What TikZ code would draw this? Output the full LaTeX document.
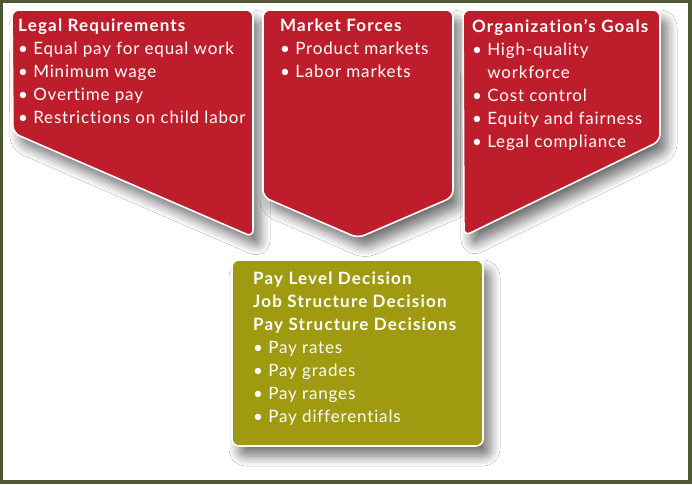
\documentclass[tikz,border=0pt]{standalone}
\usepackage{fontspec}
\setmainfont{Lato}[LetterSpace=5, Ligatures={NoCommon, NoRare}, BoldFeatures={LetterSpace=7}]
\usetikzlibrary{shadows.blur}
\definecolor{framegreen}{RGB}{78,88,52}
\definecolor{boxred}{RGB}{190,30,44}
\definecolor{boxolive}{RGB}{160,154,16}

\begin{document}
\begin{tikzpicture}[x=1pt, y=-1pt,
        factor/.style={draw=white, line width=1.6pt, rounded corners=7pt, blur shadow={shadow xshift=7pt, shadow yshift=-10pt, shadow blur radius=10pt, shadow blur steps=10, shadow opacity=55}},
        every node/.style={anchor=north west, inner sep=0pt, align=left, text=white, font=\fontsize{17}{23}\selectfont}]
                \useasboundingbox (0,0) rectangle (692,484);
                \fill[framegreen] (0,0) rectangle (692,484);
                \fill[white] (3,3) rectangle (688,480);
                \fill[boxred, factor] (12,10) -- (253,10) -- (253,237) -- (13,133) -- cycle;
                \fill[boxred, factor] (263,10) -- (453,10) -- (453,197) -- (358,238) -- (263,197) -- cycle;
                \fill[boxred, factor] (463,10) -- (660,10) -- (660,141) -- (464,236) -- cycle;
                \fill[boxolive, factor] (232,260) rectangle (483,446);
                \node (legal) at (18,19) {\textbf{Legal Requirements}\\• Equal pay for equal work\\• Minimum wage\\• Overtime pay\\• Restrictions on child labor};
                \node (market) at (280,19) {\textbf{Market Forces}\\• Product markets\\• Labor markets};
                \node (goals) at (472,19) {\textbf{Organization’s Goals}\\• High-quality\\\phantom{• }workforce\\• Cost control\\• Equity and fairness\\• Legal compliance};
                \node (decisions) at (253,272) {\textbf{Pay Level Decision}\\\textbf{Job Structure Decision}\\\textbf{Pay Structure Decisions}\\• Pay rates\\• Pay grades\\• Pay ranges\\• Pay differentials};
            \end{tikzpicture}
\end{document}
